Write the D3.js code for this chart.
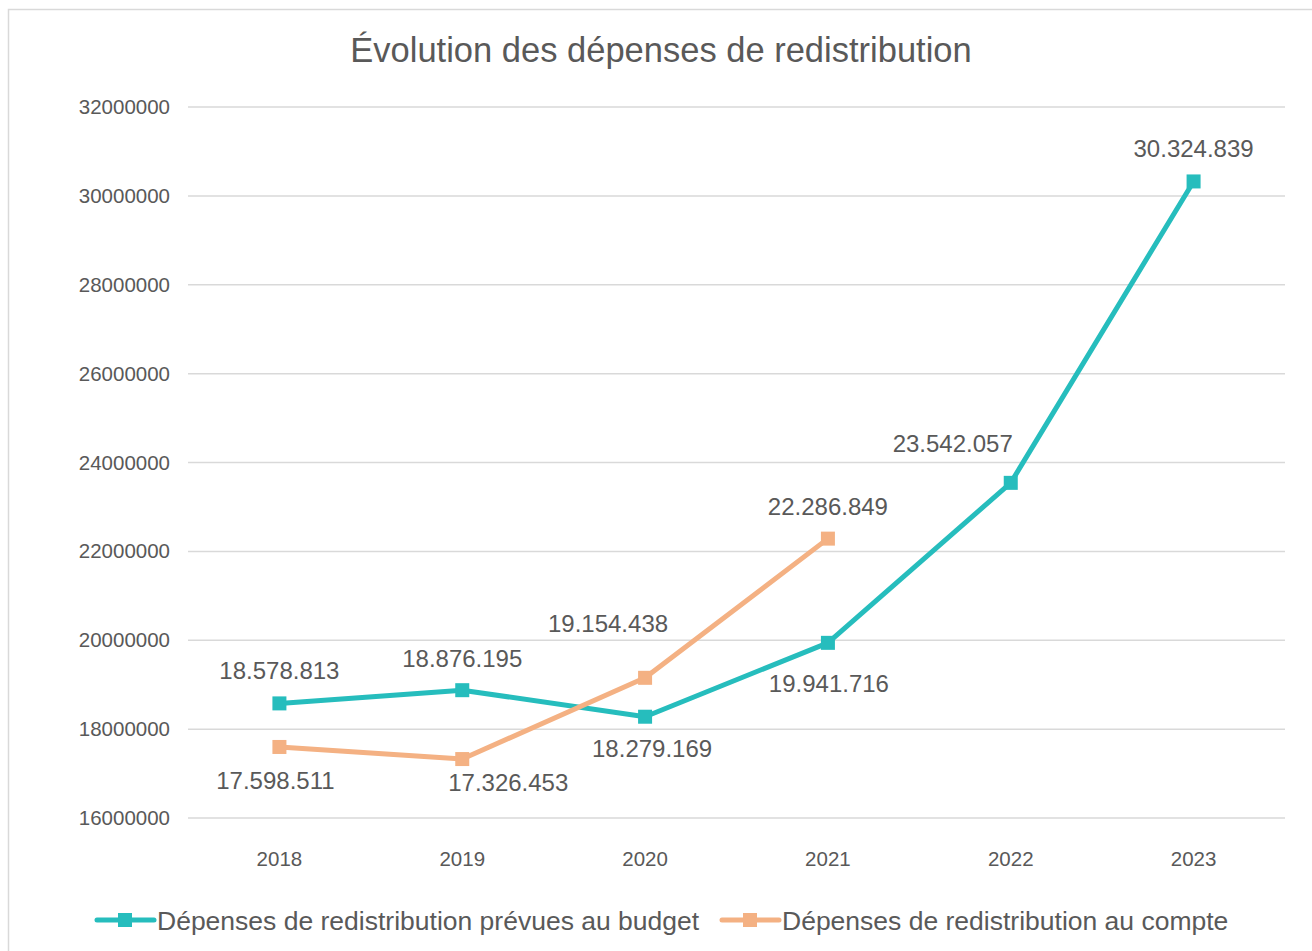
<!DOCTYPE html>
<html>
<head>
<meta charset="utf-8">
<script src="https://cdn.jsdelivr.net/npm/d3@7"></script>
<style>
  body { margin: 0; background: #fff; }
  svg text { font-family: "Liberation Sans", Arial, sans-serif; fill: #595959; }
</style>
</head>
<body>
<script>
const years = ['2018', '2019', '2020', '2021', '2022', '2023']
const budget = [18578813, 18876195, 18279169, 19941716, 23542057, 30324839]
const compte = [17598511, 17326453, 19154438, 22286849]
const yTicks = [16000000, 18000000, 20000000, 22000000, 24000000, 26000000, 28000000, 30000000, 32000000]
const seriesNames = ['Dépenses de redistribution prévues au budget', 'Dépenses de redistribution au compte']

// label placement relative to its point: [dx, dy, anchor]
const budgetLabelPos = [[0, -24, 'middle'], [0, -23, 'middle'], [7, 40, 'middle'], [1, 49, 'middle'], [2, -31, 'end'], [0, -24, 'middle']]
const compteLabelPos = [[-4, 42, 'middle'], [46, 32, 'middle'], [23, -46, 'end'], [0, -24, 'middle']]

const width = 1312
const height = 951
const teal = '#26BDBD'
const orange = '#F4B183'

const svg = d3.select('body').append('svg')
  .attr('width', width)
  .attr('height', height)

svg.append('rect')
  .attr('x', 8.5).attr('y', 9.5)
  .attr('width', width).attr('height', height)
  .attr('fill', '#fff')
  .attr('stroke', '#d9d9d9')
  .attr('stroke-width', 1.5)

svg.append('text')
  .attr('x', 661).attr('y', 62)
  .attr('text-anchor', 'middle')
  .style('font-size', '34.5px')
  .text('Évolution des dépenses de redistribution')

const x = d3.scaleBand()
  .domain(years)
  .range([188, 1285])

const y = d3.scaleLinear()
  .domain([16000000, 32000000])
  .range([818, 107])

// grid
svg.append('g')
  .selectAll('line')
  .data(yTicks)
  .enter()
  .append('line')
  .attr('x1', 188).attr('x2', 1285)
  .attr('y1', d => y(d)).attr('y2', d => y(d))
  .attr('stroke', '#d9d9d9')
  .attr('stroke-width', 1.5)

const yAxis = svg.append('g')
  .attr('transform', 'translate(170, 0)')
  .call(d3.axisLeft(y).tickValues(yTicks).tickFormat(d3.format('d')).tickSize(0).tickPadding(0))
yAxis.select('.domain').remove()
yAxis.selectAll('text')
  .style('font-size', '20.5px')
  .attr('fill', '#595959')

const xAxis = svg.append('g')
  .attr('transform', 'translate(0, 818)')
  .call(d3.axisBottom(x).tickSize(0).tickPadding(33))
xAxis.select('.domain').remove()
xAxis.selectAll('text')
  .style('font-size', '20.5px')
  .attr('fill', '#595959')

const cx = d => x(d) + x.bandwidth() / 2
const fmt = v => d3.format(',')(v).replace(/,/g, '.')

function drawSeries(values, color, labelPos) {
  const pts = values.map((v, i) => ({ year: years[i], value: v, pos: labelPos[i] }))
  const line = d3.line().x(d => cx(d.year)).y(d => y(d.value))
  svg.append('path')
    .datum(pts)
    .attr('d', line)
    .attr('fill', 'none')
    .attr('stroke', color)
    .attr('stroke-width', 5)
    .attr('stroke-linejoin', 'round')
    .attr('stroke-linecap', 'round')

  svg.append('g')
    .selectAll('rect')
    .data(pts)
    .enter()
    .append('rect')
    .attr('x', d => cx(d.year) - 7)
    .attr('y', d => y(d.value) - 7)
    .attr('width', 14).attr('height', 14)
    .attr('fill', color)

  svg.append('g')
    .selectAll('text')
    .data(pts)
    .enter()
    .append('text')
    .attr('text-anchor', d => d.pos[2])
    .attr('x', d => cx(d.year) + d.pos[0])
    .attr('y', d => y(d.value) + d.pos[1])
    .style('font-size', '24px')
    .attr('fill', '#404040')
    .text(d => fmt(d.value))
}

drawSeries(budget, teal, budgetLabelPos)
drawSeries(compte, orange, compteLabelPos)

// legend
const legend = svg.append('g')
const items = [
  { name: seriesNames[0], color: teal, x: 97 },
  { name: seriesNames[1], color: orange, x: 722 }
]
items.forEach(it => {
  const g = legend.append('g').attr('transform', `translate(${it.x}, 920)`)
  g.append('line').attr('x1', 0).attr('x2', 57).attr('y1', 0).attr('y2', 0)
    .attr('stroke', it.color).attr('stroke-width', 5).attr('stroke-linecap', 'round')
  g.append('rect').attr('x', 21).attr('y', -7).attr('width', 14).attr('height', 14).attr('fill', it.color)
  g.append('text').attr('x', 60).attr('y', 10)
    .style('font-size', '26.5px')
    .text(it.name)
})
</script>
</body>
</html>
